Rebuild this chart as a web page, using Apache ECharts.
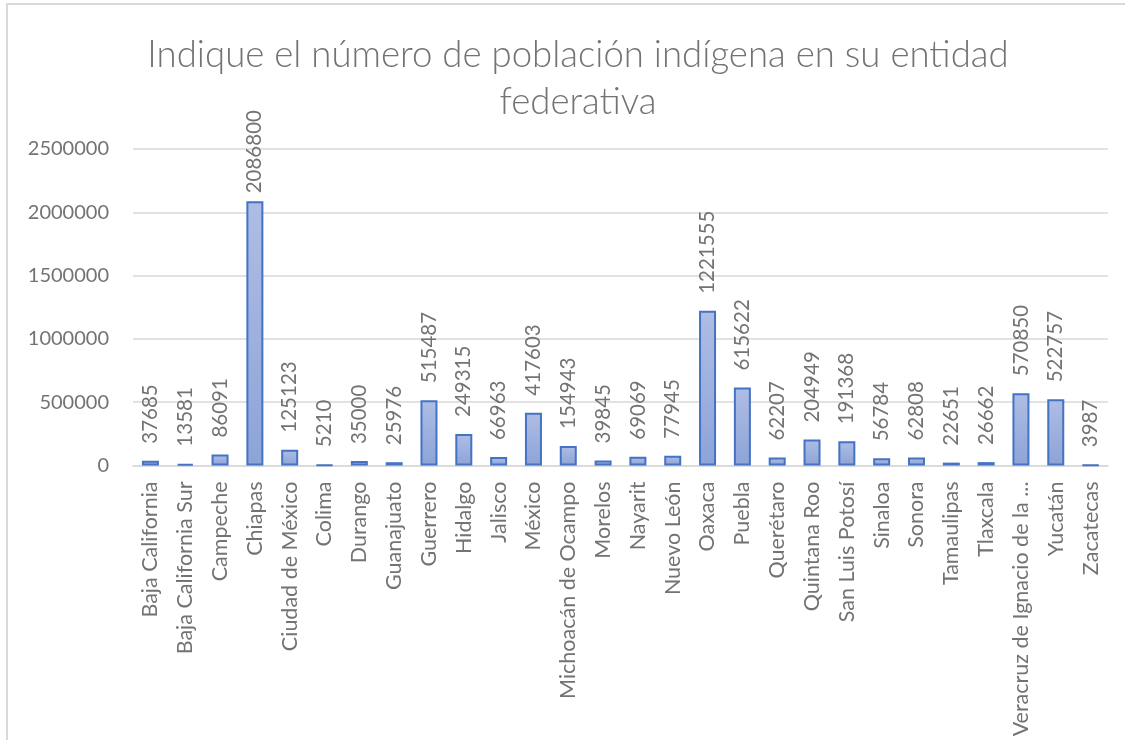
<!DOCTYPE html>
<html>
<head>
<meta charset="utf-8">
<script src="https://cdn.jsdelivr.net/npm/echarts@6/dist/echarts.min.js"></script>
<style>
html,body{margin:0;padding:0;background:#fff;}
#chart{width:1125px;height:740px;}
</style>
</head>
<body>
<div id="chart"></div>
<script>
const titleText = "Indique el número de población indígena en su entidad\nfederativa";
const categories = ["Baja California","Baja California Sur","Campeche","Chiapas","Ciudad de México","Colima","Durango","Guanajuato","Guerrero","Hidalgo","Jalisco","México","Michoacán de Ocampo","Morelos","Nayarit","Nuevo León","Oaxaca","Puebla","Querétaro","Quintana Roo","San Luis Potosí","Sinaloa","Sonora","Tamaulipas","Tlaxcala","Veracruz de Ignacio de la Llave","Yucatán","Zacatecas"];
const values = [37685,13581,86091,2086800,125123,5210,35000,25976,515487,249315,66963,417603,154943,39845,69069,77945,1221555,615622,62207,204949,191368,56784,62808,22651,26662,570850,522757,3987];
const yTicks = [0,500000,1000000,1500000,2000000,2500000];

const FONT = "Lato";
const TXT = "#737373";

const chart = echarts.init(document.getElementById('chart'));
const data = values.map(function(v){
  if (v > 2000000) return {value: v, label: {distance: 8}};
  return v;
});
chart.setOption({
  animation: false,
  title: {
    text: titleText,
    left: 573, top: 27, textAlign: 'center',
    textStyle: {fontFamily: FONT, fontWeight: 300, fontSize: 36.6, color: TXT, lineHeight: 47}
  },
  graphic: [{
    type: 'rect', shape: {x: 7, y: 4, width: 1300, height: 900},
    style: {fill: 'none', stroke: '#d9d9d9', lineWidth: 2}, silent: true, z: -1
  }],
  grid: {left: 133, right: 17, top: 149, bottom: 740 - 465.5, containLabel: false},
  xAxis: {
    type: 'category', data: categories,
    axisLine: {lineStyle: {color: '#d9d9d9', width: 1.5}},
    axisTick: {show: false},
    axisLabel: {rotate: 90, margin: 16, fontFamily: FONT, fontSize: 21.5, color: TXT,
      interval: 0, width: 262, overflow: 'truncate', ellipsis: '...'}
  },
  yAxis: {
    type: 'value', min: yTicks[0], max: yTicks[yTicks.length-1], interval: 500000,
    axisLine: {show: false}, axisTick: {show: false},
    splitLine: {lineStyle: {color: '#d9d9d9', width: 1.5}},
    axisLabel: {margin: 24, fontFamily: FONT, fontSize: 20, color: TXT,
      formatter: function(v){ return String(v); }}
  },
  series: [{
    type: 'bar', data: data, barWidth: 17,
    itemStyle: {
      color: new echarts.graphic.LinearGradient(0,0,0,1,[{offset:0,color:'#aebde4'},{offset:1,color:'#8da4d8'}]),
      borderColor: '#4472c4', borderWidth: 2
    },
    label: {show: true, position: 'top', rotate: 90, align: 'left', verticalAlign: 'middle',
      distance: 17, fontFamily: FONT, fontSize: 20.5, color: TXT}
  }]
});
</script>
</body>
</html>
